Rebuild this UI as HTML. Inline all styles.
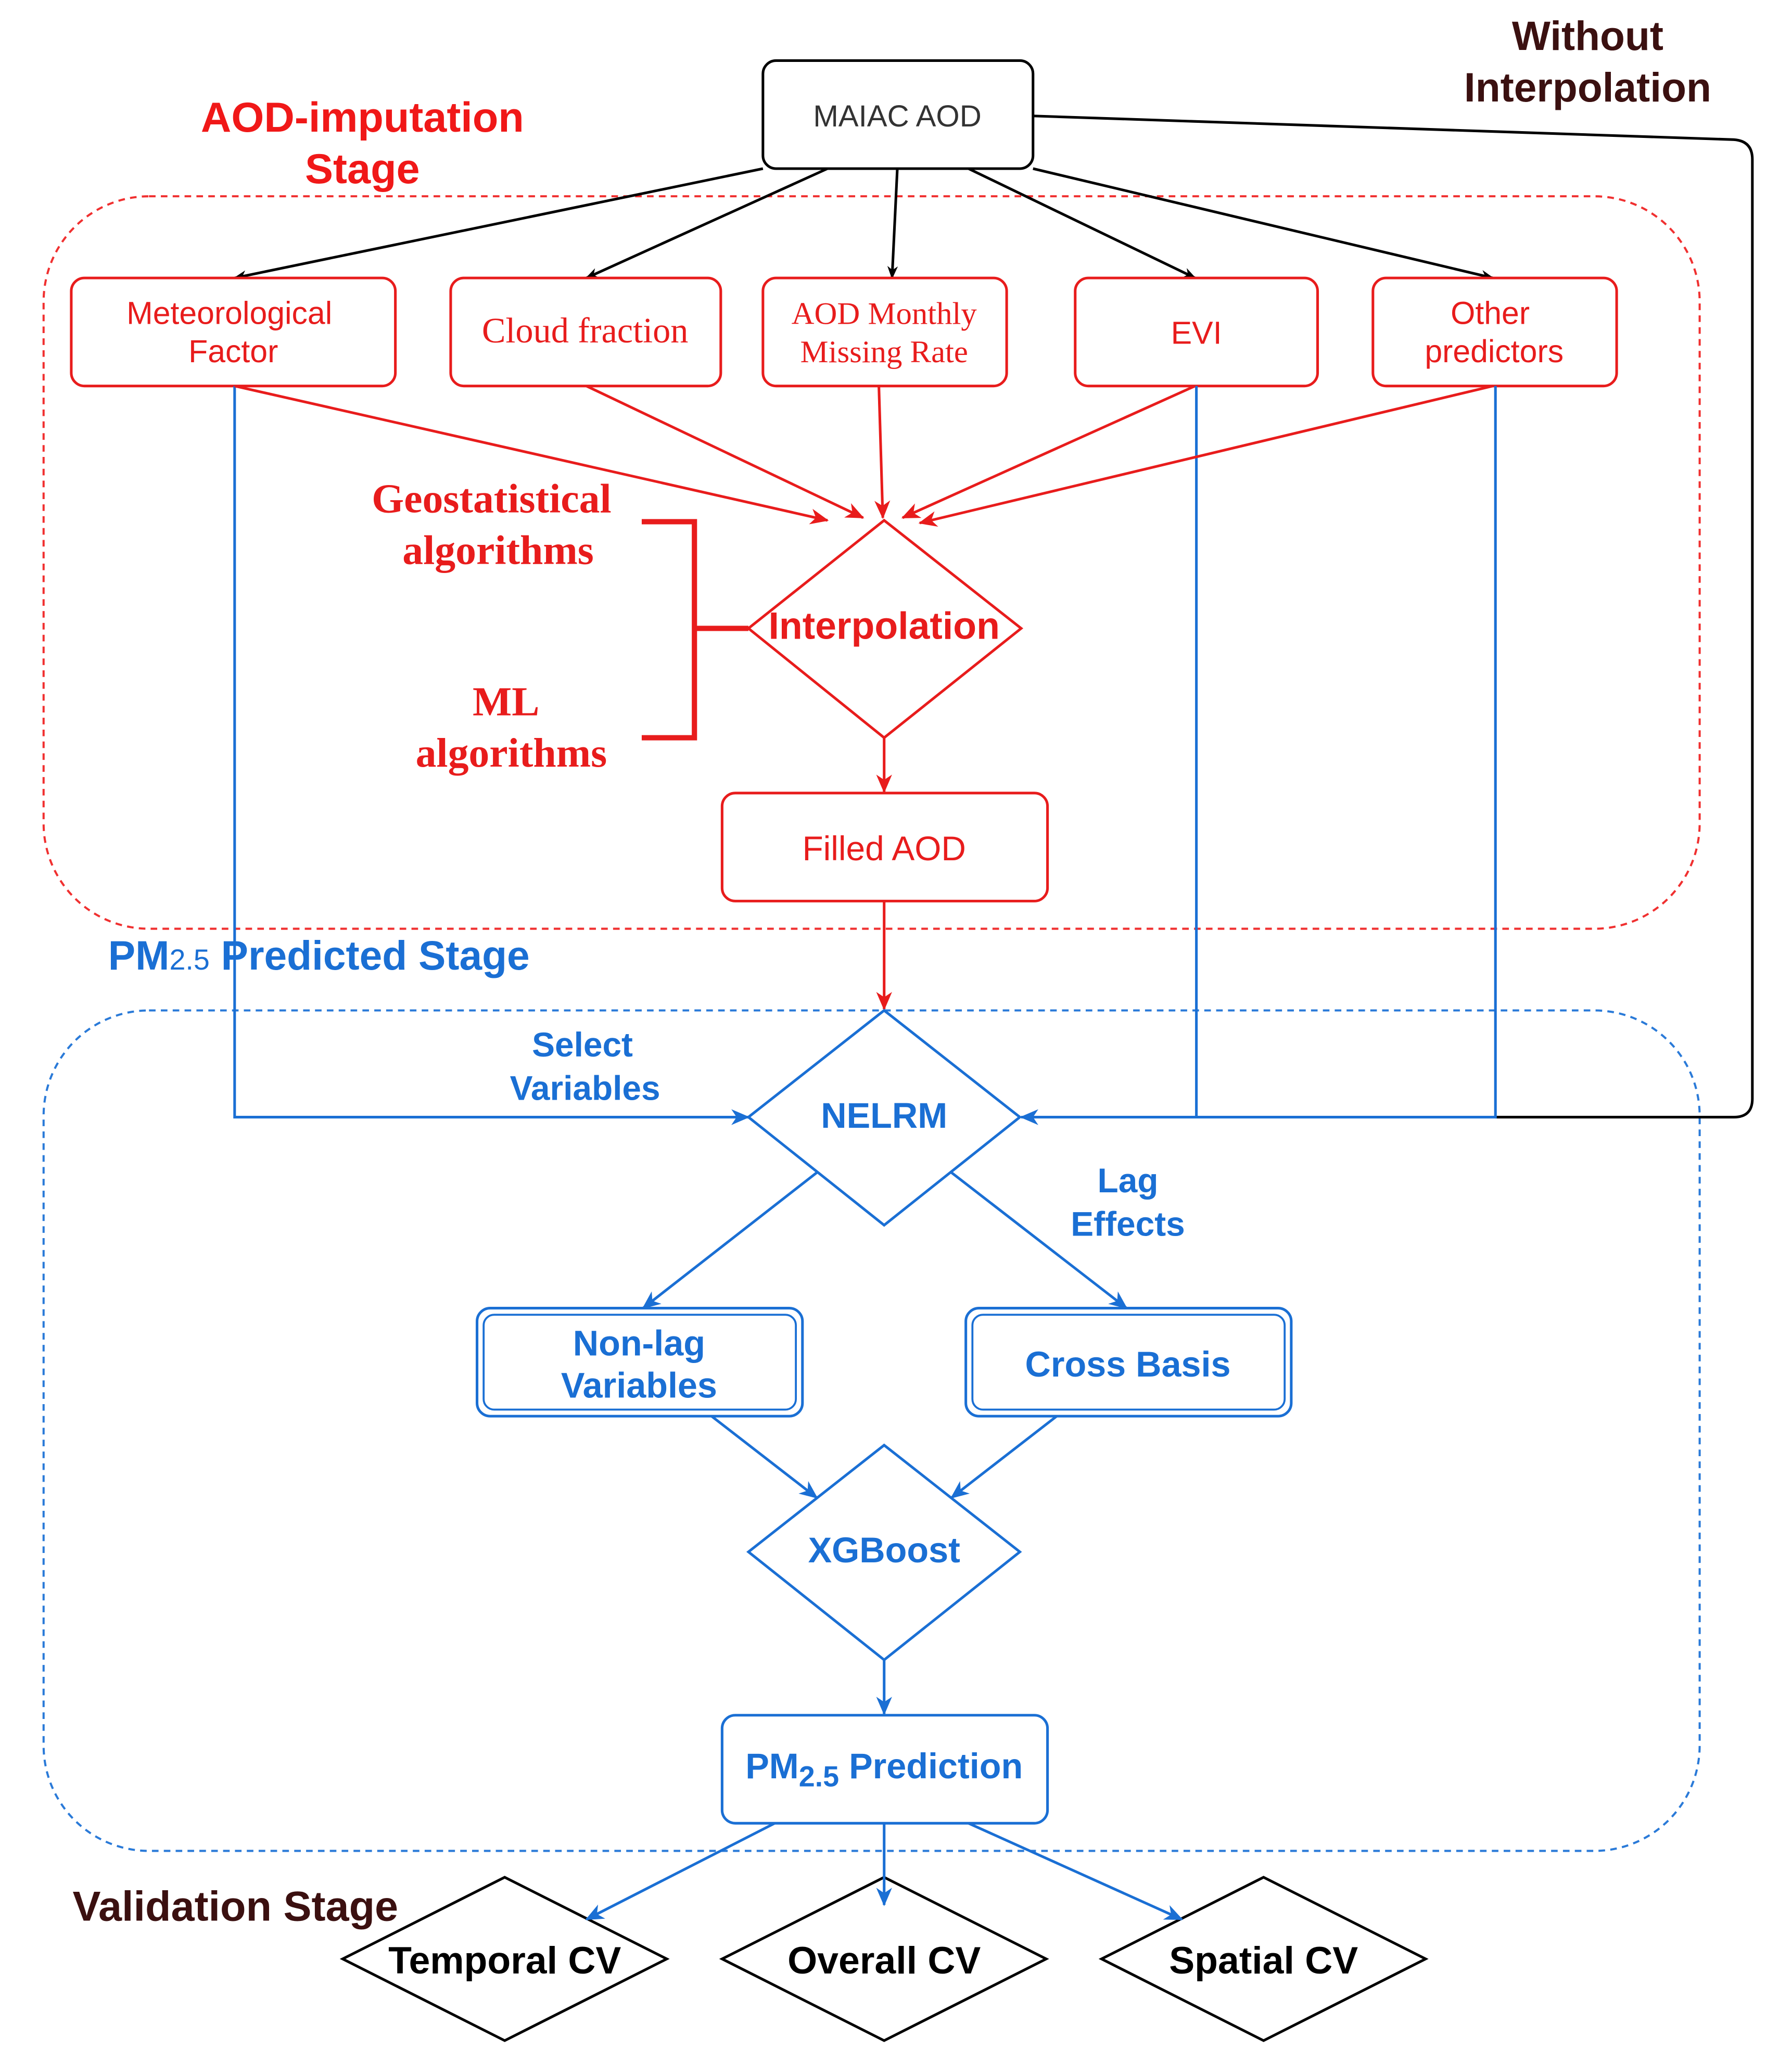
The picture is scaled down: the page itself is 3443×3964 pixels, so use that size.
<!DOCTYPE html>
<html><head><meta charset="utf-8"><style>
html,body{margin:0;padding:0;background:#fff;}
svg{display:block;}
.s{font-family:"Liberation Sans",sans-serif;}
.r{font-family:"Liberation Serif",serif;}
</style></head><body>
<svg width="3443" height="3964" viewBox="0 0 1360 1566" xmlns="http://www.w3.org/2000/svg">
<defs>
<marker id="ak" markerWidth="10" markerHeight="10" refX="9" refY="5" orient="auto" markerUnits="userSpaceOnUse"><path d="M0,1 L10,5 L0,9 L3,5z" fill="#000"/></marker>
<marker id="ar" markerWidth="14" markerHeight="14" refX="13" refY="7" orient="auto" markerUnits="userSpaceOnUse"><path d="M0,1 L14,7 L0,13 L4,7z" fill="#e81c1c"/></marker>
<marker id="ab" markerWidth="14" markerHeight="14" refX="13" refY="7" orient="auto" markerUnits="userSpaceOnUse"><path d="M0,1 L14,7 L0,13 L4,7z" fill="#1a6fd4"/></marker>
</defs>
<rect width="1360" height="1566" fill="#fff"/>
<rect x="33" y="149" width="1257" height="556" rx="80" fill="none" stroke="#f03030" stroke-width="1.6" stroke-dasharray="5,4"/>
<rect x="33" y="767" width="1257" height="638" rx="80" fill="none" stroke="#2a7ad8" stroke-width="1.6" stroke-dasharray="5,4"/>
<text class="s" x="1205" y="38" font-size="31" font-weight="bold" fill="#3b1010" text-anchor="middle">Without</text>
<text class="s" x="1205" y="77" font-size="31" font-weight="bold" fill="#3b1010" text-anchor="middle">Interpolation</text>
<text class="s" x="275" y="100" font-size="32" font-weight="bold" fill="#f01818" text-anchor="middle">AOD-imputation</text>
<text class="s" x="275" y="139" font-size="32" font-weight="bold" fill="#f01818" text-anchor="middle">Stage</text>
<text class="s" x="82" y="736" font-size="31" font-weight="bold" fill="#1a6fd4">PM<tspan font-size="22" font-weight="normal">2.5</tspan> Predicted Stage</text>
<text class="s" x="55" y="1458" font-size="32" font-weight="bold" fill="#3b1010">Validation Stage</text>
<rect x="579" y="46" width="205" height="82" rx="10" fill="#fff" stroke="#000" stroke-width="2"/>
<text class="s" x="681" y="96" font-size="23" fill="#333" text-anchor="middle">MAIAC AOD</text>
<g stroke="#000" stroke-width="2" fill="none">
<line x1="579" y1="128" x2="178" y2="211" marker-end="url(#ak)"/>
<line x1="628" y1="128" x2="445" y2="211" marker-end="url(#ak)"/>
<line x1="681" y1="128" x2="677" y2="211" marker-end="url(#ak)"/>
<line x1="735" y1="128" x2="907" y2="211" marker-end="url(#ak)"/>
<line x1="784" y1="128" x2="1133" y2="211" marker-end="url(#ak)"/>
<path d="M784,88 L1316,106 Q1330,107 1330,121 L1330,834 Q1330,848 1316,848 L1135,848"/>
</g>
<g fill="#fff" stroke="#e81c1c" stroke-width="2">
<rect x="54" y="211" width="246" height="82" rx="10"/>
<rect x="342" y="211" width="205" height="82" rx="10"/>
<rect x="579" y="211" width="185" height="82" rx="10"/>
<rect x="816" y="211" width="184" height="82" rx="10"/>
<rect x="1042" y="211" width="185" height="82" rx="10"/>
<rect x="548" y="602" width="247" height="82" rx="10"/>
</g>
<g fill="#e81c1c" text-anchor="middle">
<text class="s" x="174" y="246" font-size="24">Meteorological</text>
<text class="s" x="177" y="275" font-size="24">Factor</text>
<text class="r" x="444" y="260" font-size="27">Cloud fraction</text>
<text class="r" x="671" y="246" font-size="24">AOD Monthly</text>
<text class="r" x="671" y="275" font-size="24">Missing Rate</text>
<text class="s" x="908" y="261" font-size="24">EVI</text>
<text class="s" x="1131" y="246" font-size="24">Other</text>
<text class="s" x="1134" y="275" font-size="24">predictors</text>
<text class="s" x="671" y="653" font-size="26">Filled AOD</text>
</g>
<g stroke="#1a6fd4" stroke-width="2" fill="none">
<path d="M178,293 L178,848 L568,848" marker-end="url(#ab)"/>
<path d="M908,293 L908,848"/>
<path d="M1135,293 L1135,848 L775,848" marker-end="url(#ab)"/>
</g>
<g stroke="#e81c1c" stroke-width="2" fill="none">
<line x1="178" y1="293" x2="628" y2="395" marker-end="url(#ar)"/>
<line x1="445" y1="293" x2="655" y2="393" marker-end="url(#ar)"/>
<line x1="667" y1="293" x2="670" y2="393" marker-end="url(#ar)"/>
<line x1="907" y1="293" x2="685" y2="393" marker-end="url(#ar)"/>
<line x1="1133" y1="293" x2="698" y2="397" marker-end="url(#ar)"/>
<line x1="671" y1="560" x2="671" y2="601" marker-end="url(#ar)"/>
<line x1="671" y1="684" x2="671" y2="766" marker-end="url(#ar)"/>
<polygon points="671,395 775,477 671,560 568,477" fill="#fff"/>
<path d="M487,396 L527,396 L527,560 L487,560 M527,477 L568,477" stroke-width="4"/>
</g>
<text class="s" x="671" y="485" font-size="29" font-weight="600" fill="#e81c1c" text-anchor="middle">Interpolation</text>
<g class="r" fill="#e81c1c" font-size="31.5" font-weight="bold" text-anchor="middle">
<text x="373" y="389">Geostatistical</text>
<text x="378" y="428">algorithms</text>
<text x="384" y="543">ML</text>
<text x="388" y="582">algorithms</text>
</g>
<g stroke="#1a6fd4" stroke-width="2" fill="#fff">
<polygon points="671,767 774,848 671,930 568,848"/>
<polygon points="671,1097 774,1178 671,1260 568,1178"/>
<rect x="362" y="993" width="247" height="82" rx="10"/>
<rect x="367" y="998" width="237" height="72" rx="8" stroke-width="1.5"/>
<rect x="733" y="993" width="247" height="82" rx="10"/>
<rect x="738" y="998" width="237" height="72" rx="8" stroke-width="1.5"/>
<rect x="548" y="1302" width="247" height="82" rx="10"/>
</g>
<g stroke="#000" stroke-width="2" fill="#fff">
<polygon points="383,1425 506,1487 383,1549 260,1487"/>
<polygon points="671,1425 794,1487 671,1549 548,1487"/>
<polygon points="959,1425 1082,1487 959,1549 836,1487"/>
</g>
<g stroke="#1a6fd4" stroke-width="2" fill="none">
<line x1="620" y1="890" x2="488" y2="993" marker-end="url(#ab)"/>
<line x1="722" y1="890" x2="855" y2="993" marker-end="url(#ab)"/>
<line x1="540" y1="1075" x2="620" y2="1137" marker-end="url(#ab)"/>
<line x1="802" y1="1075" x2="722" y2="1137" marker-end="url(#ab)"/>
<line x1="671" y1="1260" x2="671" y2="1301" marker-end="url(#ab)"/>
<line x1="588" y1="1384" x2="445" y2="1457" marker-end="url(#ab)"/>
<line x1="671" y1="1384" x2="671" y2="1446" marker-end="url(#ab)"/>
<line x1="735" y1="1384" x2="897" y2="1457" marker-end="url(#ab)"/>
</g>
<g class="s" fill="#1a6fd4" font-weight="bold" text-anchor="middle" font-size="27">
<text x="671" y="856">NELRM</text>
<text x="671" y="1186">XGBoost</text>
<text x="485" y="1029">Non-lag</text>
<text x="485" y="1061">Variables</text>
<text x="856" y="1045">Cross Basis</text>
<text x="671" y="1350">PM<tspan font-size="22" dy="6">2.5</tspan><tspan dy="-6"> Prediction</tspan></text>
<text x="442" y="802" font-size="26">Select</text>
<text x="444" y="835" font-size="26">Variables</text>
<text x="856" y="905" font-size="26">Lag</text>
<text x="856" y="938" font-size="26">Effects</text>
</g>
<g class="s" fill="#000" font-size="29" font-weight="bold" text-anchor="middle">
<text x="383" y="1498">Temporal CV</text>
<text x="671" y="1498">Overall CV</text>
<text x="959" y="1498">Spatial CV</text>
</g>
</svg>
</body></html>
